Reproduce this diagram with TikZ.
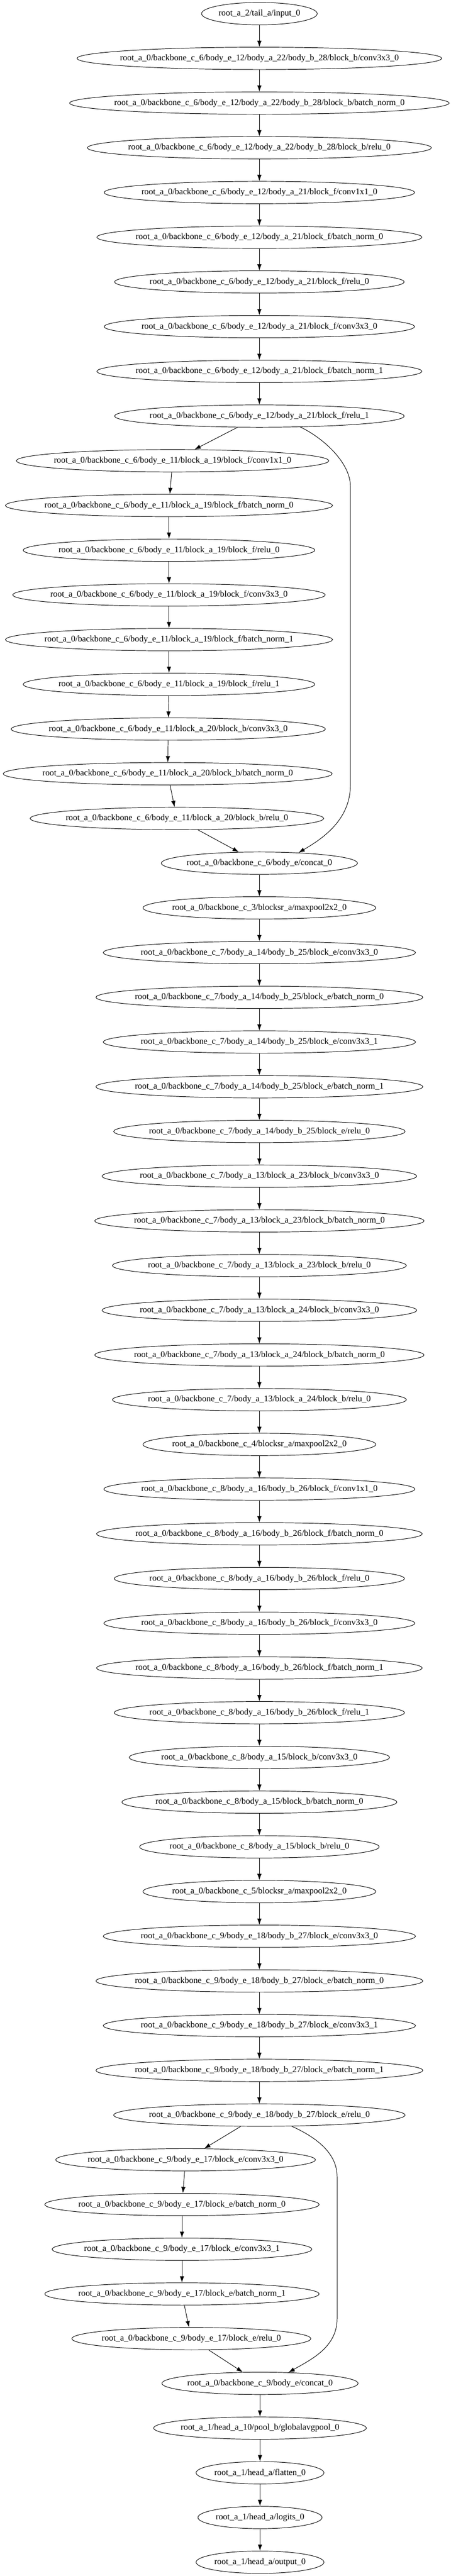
\documentclass[tikz,border=0pt]{standalone}
\usepackage{fontspec}
\setmainfont{Liberation Serif}
\usetikzlibrary{arrows.meta,shapes.geometric}
\newdimen\oplen
\newcommand\opnode[3]{\settowidth\oplen{\pgfinterruptpicture\fontsize{14}{16}\selectfont #3\endpgfinterruptpicture}\oplen=1.264\oplen\advance\oplen by 20pt\node[oval] (#1) at (#2) {#3};}

\begin{document}
\begin{tikzpicture}[x=1pt,y=1pt,
  oval/.style={draw,ellipse,line width=0.8pt,font=\fontsize{14}{16}\selectfont,inner xsep=-40pt,inner ysep=0pt,minimum height=36pt,minimum width=\oplen},
  link/.style={line width=0.8pt,-{Latex[length=10pt,width=7pt]}}]

  \useasboundingbox (0,0) rectangle (725.25,-4148.25);

  \opnode{n0}{417.5,-22}{root\_a\_2/tail\_a/input\_0}
  \opnode{n1}{417.5,-94}{root\_a\_0/backbone\_c\_6/body\_e\_12/body\_a\_22/body\_b\_28/block\_b/conv3x3\_0}
  \opnode{n2}{417.5,-166}{root\_a\_0/backbone\_c\_6/body\_e\_12/body\_a\_22/body\_b\_28/block\_b/batch\_norm\_0}
  \opnode{n3}{417.5,-238}{root\_a\_0/backbone\_c\_6/body\_e\_12/body\_a\_22/body\_b\_28/block\_b/relu\_0}
  \opnode{n4}{417.5,-310}{root\_a\_0/backbone\_c\_6/body\_e\_12/body\_a\_21/block\_f/conv1x1\_0}
  \opnode{n5}{417.5,-382}{root\_a\_0/backbone\_c\_6/body\_e\_12/body\_a\_21/block\_f/batch\_norm\_0}
  \opnode{n6}{417.5,-454}{root\_a\_0/backbone\_c\_6/body\_e\_12/body\_a\_21/block\_f/relu\_0}
  \opnode{n7}{417.5,-526}{root\_a\_0/backbone\_c\_6/body\_e\_12/body\_a\_21/block\_f/conv3x3\_0}
  \opnode{n8}{417.5,-598}{root\_a\_0/backbone\_c\_6/body\_e\_12/body\_a\_21/block\_f/batch\_norm\_1}
  \opnode{n9}{417.5,-670}{root\_a\_0/backbone\_c\_6/body\_e\_12/body\_a\_21/block\_f/relu\_1}

  % left branch of body_e_11
  \opnode{n10}{277.8,-742}{root\_a\_0/backbone\_c\_6/body\_e\_11/block\_a\_19/block\_f/conv1x1\_0}
  \opnode{n11}{272,-814}{root\_a\_0/backbone\_c\_6/body\_e\_11/block\_a\_19/block\_f/batch\_norm\_0}
  \opnode{n12}{272,-886}{root\_a\_0/backbone\_c\_6/body\_e\_11/block\_a\_19/block\_f/relu\_0}
  \opnode{n13}{272,-958}{root\_a\_0/backbone\_c\_6/body\_e\_11/block\_a\_19/block\_f/conv3x3\_0}
  \opnode{n14}{272,-1030}{root\_a\_0/backbone\_c\_6/body\_e\_11/block\_a\_19/block\_f/batch\_norm\_1}
  \opnode{n15}{272,-1102}{root\_a\_0/backbone\_c\_6/body\_e\_11/block\_a\_19/block\_f/relu\_1}
  \opnode{n16}{270.8,-1174}{root\_a\_0/backbone\_c\_6/body\_e\_11/block\_a\_20/block\_b/conv3x3\_0}
  \opnode{n17}{269.9,-1246}{root\_a\_0/backbone\_c\_6/body\_e\_11/block\_a\_20/block\_b/batch\_norm\_0}
  \opnode{n18}{284.8,-1318}{root\_a\_0/backbone\_c\_6/body\_e\_11/block\_a\_20/block\_b/relu\_0}

  \opnode{n19}{417.5,-1390}{root\_a\_0/backbone\_c\_6/body\_e/concat\_0}
  \opnode{n20}{417.5,-1462}{root\_a\_0/backbone\_c\_3/blocksr\_a/maxpool2x2\_0}
  \opnode{n21}{417.5,-1534}{root\_a\_0/backbone\_c\_7/body\_a\_14/body\_b\_25/block\_e/conv3x3\_0}
  \opnode{n22}{417.5,-1606}{root\_a\_0/backbone\_c\_7/body\_a\_14/body\_b\_25/block\_e/batch\_norm\_0}
  \opnode{n23}{417.5,-1678}{root\_a\_0/backbone\_c\_7/body\_a\_14/body\_b\_25/block\_e/conv3x3\_1}
  \opnode{n24}{417.5,-1750}{root\_a\_0/backbone\_c\_7/body\_a\_14/body\_b\_25/block\_e/batch\_norm\_1}
  \opnode{n25}{417.5,-1822}{root\_a\_0/backbone\_c\_7/body\_a\_14/body\_b\_25/block\_e/relu\_0}
  \opnode{n26}{417.5,-1894}{root\_a\_0/backbone\_c\_7/body\_a\_13/block\_a\_23/block\_b/conv3x3\_0}
  \opnode{n27}{417.5,-1966}{root\_a\_0/backbone\_c\_7/body\_a\_13/block\_a\_23/block\_b/batch\_norm\_0}
  \opnode{n28}{417.5,-2038}{root\_a\_0/backbone\_c\_7/body\_a\_13/block\_a\_23/block\_b/relu\_0}
  \opnode{n29}{417.5,-2110}{root\_a\_0/backbone\_c\_7/body\_a\_13/block\_a\_24/block\_b/conv3x3\_0}
  \opnode{n30}{417.5,-2182}{root\_a\_0/backbone\_c\_7/body\_a\_13/block\_a\_24/block\_b/batch\_norm\_0}
  \opnode{n31}{417.5,-2254}{root\_a\_0/backbone\_c\_7/body\_a\_13/block\_a\_24/block\_b/relu\_0}
  \opnode{n32}{417.5,-2326}{root\_a\_0/backbone\_c\_4/blocksr\_a/maxpool2x2\_0}
  \opnode{n33}{417.5,-2398}{root\_a\_0/backbone\_c\_8/body\_a\_16/body\_b\_26/block\_f/conv1x1\_0}
  \opnode{n34}{417.5,-2470}{root\_a\_0/backbone\_c\_8/body\_a\_16/body\_b\_26/block\_f/batch\_norm\_0}
  \opnode{n35}{417.5,-2542}{root\_a\_0/backbone\_c\_8/body\_a\_16/body\_b\_26/block\_f/relu\_0}
  \opnode{n36}{417.5,-2614}{root\_a\_0/backbone\_c\_8/body\_a\_16/body\_b\_26/block\_f/conv3x3\_0}
  \opnode{n37}{417.5,-2686}{root\_a\_0/backbone\_c\_8/body\_a\_16/body\_b\_26/block\_f/batch\_norm\_1}
  \opnode{n38}{417.5,-2758}{root\_a\_0/backbone\_c\_8/body\_a\_16/body\_b\_26/block\_f/relu\_1}
  \opnode{n39}{417.5,-2830}{root\_a\_0/backbone\_c\_8/body\_a\_15/block\_b/conv3x3\_0}
  \opnode{n40}{417.5,-2902}{root\_a\_0/backbone\_c\_8/body\_a\_15/block\_b/batch\_norm\_0}
  \opnode{n41}{417.5,-2974}{root\_a\_0/backbone\_c\_8/body\_a\_15/block\_b/relu\_0}
  \opnode{n42}{417.5,-3046}{root\_a\_0/backbone\_c\_5/blocksr\_a/maxpool2x2\_0}
  \opnode{n43}{417.5,-3118}{root\_a\_0/backbone\_c\_9/body\_e\_18/body\_b\_27/block\_e/conv3x3\_0}
  \opnode{n44}{417.5,-3190}{root\_a\_0/backbone\_c\_9/body\_e\_18/body\_b\_27/block\_e/batch\_norm\_0}
  \opnode{n45}{417.5,-3262}{root\_a\_0/backbone\_c\_9/body\_e\_18/body\_b\_27/block\_e/conv3x3\_1}
  \opnode{n46}{417.5,-3334}{root\_a\_0/backbone\_c\_9/body\_e\_18/body\_b\_27/block\_e/batch\_norm\_1}
  \opnode{n47}{417.5,-3406}{root\_a\_0/backbone\_c\_9/body\_e\_18/body\_b\_27/block\_e/relu\_0}

  % left branch of body_e_17
  \opnode{n48}{298.7,-3478}{root\_a\_0/backbone\_c\_9/body\_e\_17/block\_e/conv3x3\_0}
  \opnode{n49}{292.9,-3550}{root\_a\_0/backbone\_c\_9/body\_e\_17/block\_e/batch\_norm\_0}
  \opnode{n50}{292.9,-3622}{root\_a\_0/backbone\_c\_9/body\_e\_17/block\_e/conv3x3\_1}
  \opnode{n51}{292.9,-3694}{root\_a\_0/backbone\_c\_9/body\_e\_17/block\_e/batch\_norm\_1}
  \opnode{n52}{308,-3766}{root\_a\_0/backbone\_c\_9/body\_e\_17/block\_e/relu\_0}

  \opnode{n53}{418.5,-3838}{root\_a\_0/backbone\_c\_9/body\_e/concat\_0}
  \opnode{n54}{418.5,-3910}{root\_a\_1/head\_a\_10/pool\_b/globalavgpool\_0}
  \opnode{n55}{418.5,-3982}{root\_a\_1/head\_a/flatten\_0}
  \opnode{n56}{418.5,-4054}{root\_a\_1/head\_a/logits\_0}
  \opnode{n57}{418.5,-4126}{root\_a\_1/head\_a/output\_0}

  \foreach \i [evaluate=\i as \j using int(\i+1)] in {0,...,56}
    \draw[link] (n\i) -- (n\j);

  % skip connections
  \draw[link] (n9.-15) .. controls (520,-705) and (564,-745) .. (564,-783)
    -- (564,-1264) .. controls (564,-1320) and (520,-1350) .. (n19.15);
  \draw[link] (n47.-19) .. controls (505,-3440) and (542.6,-3465) .. (542.6,-3505)
    -- (542.6,-3734) .. controls (542.6,-3780) and (500,-3800) .. (n53.21);

\end{tikzpicture}
\end{document}
